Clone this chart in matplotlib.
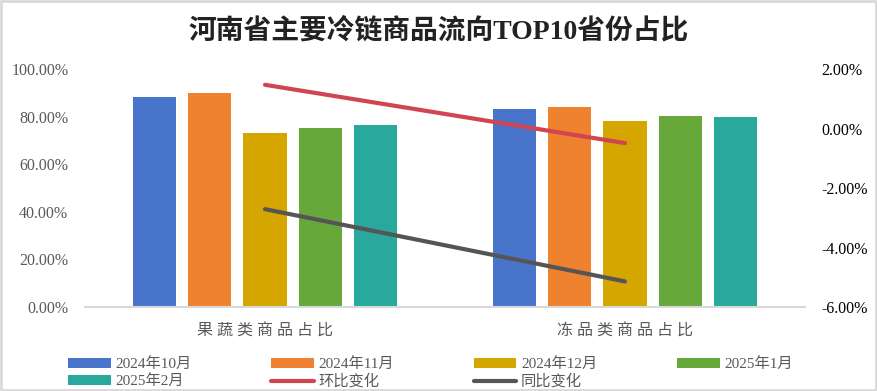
import numpy as np
import matplotlib
matplotlib.use("Agg")
import matplotlib.pyplot as plt
from matplotlib.patches import Rectangle
from matplotlib.ticker import FuncFormatter

plt.rcParams['font.family'] = ['Liberation Serif', 'Noto Sans CJK SC']

categories = ["果蔬类商品占比", "冻品类商品占比"]
months = ["2024年10月", "2024年11月", "2024年12月", "2025年1月", "2025年2月"]
# share of top-10 destination provinces (%)
share = [
    [88.2, 83.2],   # 2024-10
    [89.9, 84.0],   # 2024-11
    [73.1, 78.2],   # 2024-12
    [75.2, 80.3],   # 2025-1
    [76.5, 79.8],   # 2025-2
]
mom_change = [1.47, -0.49]   # 环比变化 (%)
yoy_change = [-2.71, -5.14]  # 同比变化 (%)

bar_colors = ["#4874CB", "#EE822F", "#D5A500", "#67A83A", "#29A99E"]
line_colors = ["#D14451", "#555555"]

fig = plt.figure(figsize=(8.78, 3.91), dpi=100)
ax = fig.add_axes([0.0968, 0.2148, 0.8200, 0.6087])
ax2 = ax.twinx()

x = np.arange(len(categories))
step = 0.1536
width = 0.12
handles = []
for i, (m, vals) in enumerate(zip(months, share)):
    h = ax.bar(x + (i - 2) * step, np.array(vals) / 100, width,
               color=bar_colors[i], label=m, zorder=2)
    handles.append(h)

l1, = ax2.plot(x, np.array(mom_change) / 100, color=line_colors[0], lw=3,
               solid_capstyle='round', label="环比变化")
l2, = ax2.plot(x, np.array(yoy_change) / 100, color=line_colors[1], lw=3,
               solid_capstyle='round', label="同比变化")
handles += [l1, l2]

ax.set_xlim(-0.5, 1.5)
ax.set_ylim(0, 1.0)
ax2.set_ylim(-0.06, 0.02)
ax.set_yticks(np.arange(0, 1.01, 0.2))
ax2.set_yticks(np.arange(-0.06, 0.021, 0.02))
pct = FuncFormatter(lambda v, p: f"{v*100:.2f}%")
ax.yaxis.set_major_formatter(pct)
ax2.yaxis.set_major_formatter(pct)

ax.set_xticks(x)
ax.set_xticklabels([" ".join(c) for c in categories], fontsize=11.5,
                   color="#595959")
for a in (ax, ax2):
    for s in a.spines.values():
        s.set_visible(False)
ax.spines['bottom'].set_visible(True)
ax.spines['bottom'].set_color("#D9D9D9")
ax.spines['bottom'].set_linewidth(1.5)
ax.tick_params(axis='x', length=0, pad=12)
ax.tick_params(axis='y', length=0, pad=12, labelsize=11.5, labelcolor="#595959")
ax2.tick_params(axis='y', length=0, pad=12, labelsize=11.5, labelcolor="#000000")

fig.suptitle("河南省主要冷链商品流向TOP10省份占比", x=0.5, y=0.955,
             fontsize=20, fontweight='bold', color="#222222")

# legend is filled column by column, so reorder to read row by row
labels = months + ["环比变化", "同比变化"]
order = [0, 4, 1, 5, 2, 6, 3]
fig.legend(handles=[handles[k] for k in order], labels=[labels[k] for k in order],
           loc='lower left', bbox_to_anchor=(0.062, -0.03), ncol=4,
           frameon=False, fontsize=11, labelcolor="#595959",
           handlelength=2.8, handleheight=0.7, columnspacing=5.2,
           handletextpad=0.3, labelspacing=0.2)

fig.patches.append(Rectangle((0.001, 0.002), 0.997, 0.995, transform=fig.transFigure,
                             fill=False, edgecolor="#D9D9D9", lw=2))

fig.savefig("out.png", dpi=100)
